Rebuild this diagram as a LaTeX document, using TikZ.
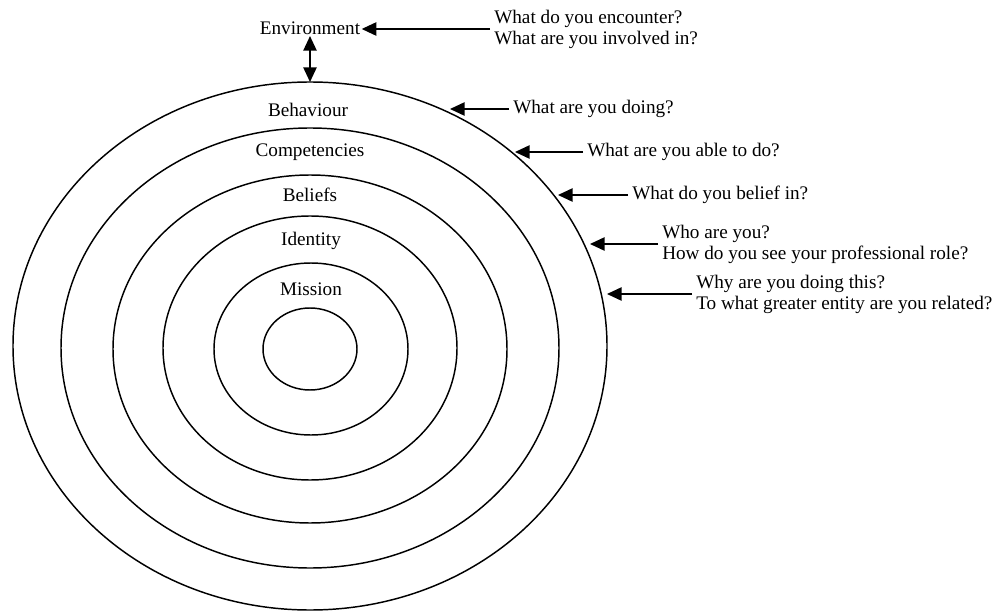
\documentclass[tikz,border=0pt]{standalone}
\usepackage{fontspec}
\setmainfont{Liberation Serif}
\usetikzlibrary{arrows.meta}

\begin{document}
\begin{tikzpicture}[x=0.75pt,y=-0.75pt,
		ring/.style={line width=1.1pt},
		lbl/.style={font=\fontsize{14.4}{15.75}\selectfont, inner sep=1pt},
		ask/.style={lbl, anchor=west, align=left, inner sep=3pt},
		arr/.style={line width=1.2pt, -{Triangle[length=11pt,width=10pt]}},
		dblarr/.style={line width=1.2pt, {Triangle[length=11pt,width=10pt]}-{Triangle[length=11pt,width=10pt]}}]
		%%%%% START %%%%%
		\useasboundingbox (0,0) rectangle (993,613);
		
		\draw[ring] (310,346) ellipse (297 and 264);
		\draw[ring] (310,348) ellipse (249 and 220);
		\draw[ring] (310,349) ellipse (197 and 174);
		\draw[ring] (310,348) ellipse (147 and 132);
		\draw[ring] (311,349) ellipse (97 and 86);
		\draw[ring] (310,349) ellipse (47 and 41);
		
		\node[lbl] (env) at (310,28) {Environment};
		\node[lbl] (beh) at (308,110) {Behaviour};
		\node[lbl] (comp) at (310,152) {Competencies};
		\node[lbl] (bel) at (310,195) {Beliefs};
		\node[lbl] (ident) at (311,241) {Identity};
		\node[lbl] (miss) at (311,289) {Mission};
		
		\node[ask] (qenv) at (490,29) {What do you encounter?\\What are you involved in?};
		\node[ask] (qbeh) at (509,109) {What are you doing?};
		\node[ask] (qcomp) at (583,152) {What are you able to do?};
		\node[ask] (qbel) at (628,195) {What do you belief in?};
		\node[ask] (qident) at (658,244) {Who are you?\\How do you see your professional role?};
		\node[ask] (qmiss) at (692,294) {Why are you doing this?\\To what greater entity are you related?};
		
		\coordinate (otop) at (310,82);
		\coordinate (tbeh) at (450,109);
		\coordinate (tcomp) at (515,152);
		\coordinate (tbel) at (558,195);
		\coordinate (tident) at (590,243);
		\coordinate (tmiss) at (607,293);
		
		\draw[dblarr] (env.south) -- (otop);
		\draw[arr] (qenv.west) -- (qenv.west -| env.east);
		\draw[arr] (qbeh.west) -- (qbeh.west -| tbeh);
		\draw[arr] (qcomp.west) -- (qcomp.west -| tcomp);
		\draw[arr] (qbel.west) -- (qbel.west -| tbel);
		\draw[arr] (qident.west) -- (qident.west -| tident);
		\draw[arr] (qmiss.west) -- (qmiss.west -| tmiss);
		
		%%%%% END %%%%%
\end{tikzpicture}
\end{document}
